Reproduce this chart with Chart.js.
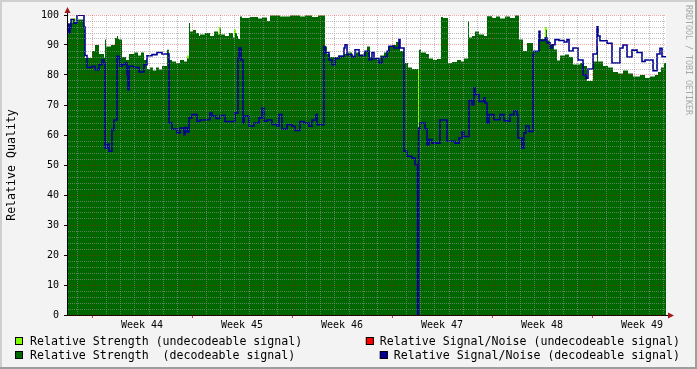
<!DOCTYPE html>
<html>
<head>
<meta charset="utf-8">
<script src="https://cdn.jsdelivr.net/npm/chart.js@4/dist/chart.umd.min.js"></script>
<style>
  html, body { margin: 0; padding: 0; background: #f3f3f3; }
  canvas { display: block; }
</style>
</head>
<body>
<canvas id="chart" width="697" height="369"></canvas>
<script>
// time axis in days, day 0 = start of week 44
const xMin = -1.75;
const xMax = 40.18;
const firstWeek = 44;

// relative strength, decodeable signal (null = undecodeable sample)
const strengthDays = [-1.75,-1.54,-1.05,-0.56,-0.49,0,0.21,0.49,0.84,0.91,0.98,1.33,1.61,1.75,1.82,1.89,2.1,2.38,2.59,2.94,3.22,3.43,3.64,3.85,4.06,4.27,4.48,4.69,4.9,5.25,5.39,5.6,5.88,6.16,6.44,6.65,6.79,6.86,7.07,7.28,7.49,7.56,7.91,8.26,8.54,8.82,8.96,9.03,9.31,9.59,9.87,10.01,10.15,10.22,10.36,10.5,11.06,11.62,11.9,12.25,12.46,13.16,13.86,14.56,14.91,15.4,15.82,16.31,16.45,16.66,16.94,17.22,17.64,17.92,18.2,18.48,18.76,19.04,19.25,19.46,19.67,19.95,20.16,20.44,20.72,21,21.28,21.56,21.84,22.12,22.4,22.82,22.85,22.89,23.03,23.38,23.59,23.87,24.15,24.43,24.57,24.92,25.2,25.55,25.83,26.04,26.32,26.39,26.6,26.81,27.09,27.44,27.65,28,28.28,28.56,28.91,29.26,29.61,29.89,30.17,30.45,30.87,31.22,31.78,31.85,32.06,32.34,32.55,32.76,33.11,33.39,33.67,34.16,34.44,34.65,35.07,35.35,35.42,35.77,36.12,36.47,36.82,37.17,37.52,37.87,38.36,38.71,39.06,39.41,39.62,39.83,40.04,40.18];
const strengthValues = [97,97.5,98.5,95,85.7,88,90,87,85.7,91.8,89.5,90,92.3,93,92,91.8,86,85,87,87.5,86.5,87.5,85,82,82.5,81.5,82.5,81.8,83,88.4,85,84.5,84,85,84.5,85.5,97.3,94.5,95,94,93,93.5,94,93,94.5,93.5,95.5,93.5,93,94,92.5,94,93,92,99.5,99,99.3,98.8,99.2,98,99.8,99.5,99.8,99.5,99.8,99.3,99.8,89.5,87,86,86,86.5,87,87.5,86.5,87.5,86.8,88,89.5,86,85.5,85,86.5,87.5,89.5,90,91,88,84,82.5,82,82,null,88.4,87.5,87,85.5,85,85.3,99.3,99,84,84.3,85,84.5,85.5,97.9,92.5,93,94.5,93.5,93,99.6,99,99.5,98.8,99.5,99,99.8,91.8,88,90.7,87.8,92,95,91.5,90,88.5,84.8,86.5,86.8,86,83.5,84,83,78,84.5,89.4,84.5,83,82.5,81,80.5,81.5,80.5,79.5,80,79,79.5,80,81,82.5,84,84];

// relative strength, undecodeable signal (short spans)
const undecStart = [-1.47, 6.65, 8.89, 9.94, 22.82, 31.71];
const undecEnd = [-1.12, 6.79, 9.03, 10.08, 22.89, 31.85];
const undecValues = [98.8, 86.5, 96, 95.2, 82, 96];

// relative signal/noise, decodeable signal
const snrDays = [-1.75,-1.61,-1.54,-1.47,-1.26,-1.05,-0.56,-0.49,-0.35,0,0.21,0.49,0.7,0.84,0.91,1.05,1.19,1.4,1.54,1.75,1.89,1.96,2.1,2.31,2.45,2.52,2.59,2.94,3.29,3.64,3.85,4.2,4.55,4.9,5.39,5.6,5.95,6.16,6.44,6.51,6.65,6.79,7,7.35,7.56,7.91,8.26,8.4,8.68,8.96,9.31,10.01,10.22,10.29,10.43,10.57,10.64,10.99,11.34,11.69,11.9,12.04,12.25,12.6,12.95,13.09,13.3,13.65,14,14.21,14.56,14.84,15.19,15.4,15.68,15.75,16.24,16.31,16.59,16.8,17.01,17.29,17.64,17.71,17.85,18.2,18.41,18.69,19.11,19.39,19.6,19.74,20.09,20.3,20.65,20.79,21.14,21.49,21.56,21.84,22.05,22.4,22.61,22.79,22.86,22.96,23.31,23.45,23.59,23.8,24.36,24.85,25.41,25.69,25.9,26.04,26.39,26.6,26.74,26.81,27.09,27.44,27.51,27.65,27.79,28.14,28.56,28.84,29.05,29.26,29.54,29.75,29.82,30.1,30.24,30.38,30.59,30.87,30.94,31.29,31.36,31.71,31.85,32.06,32.2,32.41,32.69,33.04,33.25,33.39,33.67,34.02,34.37,34.58,34.72,35.07,35.35,35.42,35.56,36.05,36.4,36.96,37.17,37.45,37.8,38.15,38.5,38.71,39.27,39.55,39.76,39.9,40.18];
const snrValues = [97,94,95.7,98.5,97.3,99.9,96,86.5,82.5,82.9,81.8,83.4,85.1,84,55.7,57,54.6,61.8,65,86.2,85.5,82.9,83.5,84,80,75.1,82.9,82.5,81,83.4,86.4,86.8,87.5,87,64,62,60.7,62.3,60.1,62.5,61,65.7,66.8,64.6,65,65.1,67.3,66.3,65.5,66.5,64.5,67.3,85.7,89,85,64,66.3,63,64,65.7,69,64.6,65,63.5,63,66.8,62,63.4,62.9,61.5,64.5,64,62.9,65,66.8,63.4,89.5,87.5,85,83.4,85.5,86.2,89,90.1,86.8,86,88.4,86.5,87.9,85.1,87.5,85.5,84,86,87.9,89.6,89,91.8,89,54.6,52.9,52.3,50.1,0,62.3,64,62,56.8,58.5,57.3,65,57.9,57.3,59,61,59.5,71.5,70.1,75.7,73.5,71.2,72.3,70.7,64,66.8,65.1,66.8,64.8,64.6,66.8,68,66.8,59,55.7,60.7,63,61.2,86.8,87.9,94.6,91.5,92.3,90.7,89,90.1,91.8,91.5,91,91.8,88,89,85,80,78.9,82,87,96.1,93,91.4,90.6,84,89,90,86,88.3,87.5,84.5,85,81.4,87,88.9,86.1,86.1];

// relative signal/noise, undecodeable signal (none in this period)
const snrUndecDays = [];
const snrUndecValues = [];

const FONT = "'DejaVu Sans Mono', monospace";
const MINOR_GRID = 'rgba(150,150,150,0.6)';
const MAJOR_GRID = 'rgba(235,0,0,0.35)';

const toPoints = (days, values) => days.map((d, i) => ({ x: d, y: values[i] }));

const undecPoints = [];
undecStart.forEach((s, i) => {
  undecPoints.push({ x: s, y: undecValues[i] });
  undecPoints.push({ x: undecEnd[i], y: undecValues[i] });
  undecPoints.push({ x: undecEnd[i], y: null });
});

const isInt = v => Math.abs(v - Math.round(v)) < 1e-6;
const isWeekStart = v => isInt(v) && Math.round(v) % 7 === 0;
const isWeekMid = v => isInt(v - 3.5) && Math.round(v - 3.5) % 7 === 0;

const frame = {
  id: 'frame',
  beforeDraw(chart) {
    const { ctx, width, height, chartArea: a } = chart;
    ctx.save();
    ctx.fillStyle = '#f3f3f3';
    ctx.fillRect(0, 0, width, height);
    ctx.fillStyle = '#cfcfcf';
    ctx.fillRect(0, 0, width, 2);
    ctx.fillRect(0, 0, 2, height);
    ctx.fillStyle = '#9e9e9e';
    ctx.fillRect(width - 2, 0, 2, height);
    ctx.fillRect(0, height - 2, width, 2);
    ctx.fillStyle = '#ffffff';
    ctx.fillRect(a.left, a.top, a.right - a.left, a.bottom - a.top);
    ctx.restore();
  },
  afterDraw(chart) {
    const { ctx, chartArea: a } = chart;
    const ds = chart.data.datasets;
    ctx.save();

    // axis arrows
    ctx.strokeStyle = '#000';
    ctx.lineWidth = 1;
    ctx.beginPath();
    ctx.moveTo(a.left + 0.5, a.top);
    ctx.lineTo(a.left + 0.5, a.top - 2);
    ctx.moveTo(a.right, a.bottom + 0.5);
    ctx.lineTo(a.right + 3, a.bottom + 0.5);
    ctx.stroke();
    ctx.fillStyle = '#a01818';
    ctx.beginPath();
    ctx.moveTo(a.left + 0.5, a.top - 8);
    ctx.lineTo(a.left - 2.5, a.top - 2);
    ctx.lineTo(a.left + 3.5, a.top - 2);
    ctx.closePath();
    ctx.fill();
    ctx.beginPath();
    ctx.moveTo(a.right + 8, a.bottom + 0.5);
    ctx.lineTo(a.right + 2, a.bottom - 2.5);
    ctx.lineTo(a.right + 2, a.bottom + 3.5);
    ctx.closePath();
    ctx.fill();

    // legend
    ctx.font = '11.6px ' + FONT;
    ctx.textBaseline = 'middle';
    const swatch = (x, y, color) => {
      ctx.fillStyle = color;
      ctx.fillRect(x, y, 8, 8);
      ctx.strokeStyle = '#000';
      ctx.strokeRect(x + 0.5, y + 0.5, 7, 7);
    };
    const rows = [337, 351];
    const left = [ds[3], ds[2]];
    const right = [ds[1], ds[0]];
    left.forEach((d, i) => {
      swatch(15, rows[i], d.legendColor);
      ctx.fillStyle = '#000';
      ctx.textAlign = 'left';
      ctx.fillText(d.label, 30, rows[i] + 4.5);
    });
    right.forEach((d, i) => {
      const w = ctx.measureText(d.label).width;
      swatch(680 - w - 14, rows[i], d.legendColor);
      ctx.fillStyle = '#000';
      ctx.textAlign = 'right';
      ctx.fillText(d.label, 680, rows[i] + 4.5);
    });

    // watermark
    ctx.translate(688, 5);
    ctx.rotate(Math.PI / 2);
    ctx.font = '8.3px ' + FONT;
    ctx.fillStyle = '#a8a8a8';
    ctx.textAlign = 'left';
    ctx.fillText('RRDTOOL / TOBI OETIKER', 0, 0);
    ctx.restore();
  }
};

new Chart(document.getElementById('chart'), {
  type: 'line',
  data: {
    datasets: [
      {
        label: 'Relative Signal/Noise (decodeable signal)',
        data: toPoints(snrDays, snrValues),
        stepped: true,
        borderColor: '#000094',
        legendColor: '#000094',
        borderWidth: 1.6,
        pointRadius: 0,
        fill: false,
        order: 0
      },
      {
        label: 'Relative Signal/Noise (undecodeable signal)',
        data: toPoints(snrUndecDays, snrUndecValues),
        stepped: true,
        borderColor: '#ff0000',
        legendColor: '#ff0000',
        borderWidth: 1.6,
        pointRadius: 0,
        fill: false,
        order: 1
      },
      {
        label: 'Relative Strength  (decodeable signal)',
        data: toPoints(strengthDays, strengthValues),
        stepped: true,
        borderColor: 'transparent',
        borderWidth: 0,
        backgroundColor: '#006600',
        legendColor: '#006600',
        pointRadius: 0,
        fill: 'origin',
        spanGaps: false,
        order: 2
      },
      {
        label: 'Relative Strength (undecodeable signal)',
        data: undecPoints,
        stepped: true,
        borderColor: 'transparent',
        borderWidth: 0,
        backgroundColor: '#80ff00',
        legendColor: '#80ff00',
        pointRadius: 0,
        fill: 'origin',
        spanGaps: false,
        order: 3
      }
    ]
  },
  options: {
    responsive: false,
    animation: false,
    events: [],
    layout: { padding: { left: 0, top: 15, right: 31, bottom: 34 } },
    plugins: { legend: { display: false }, tooltip: { enabled: false } },
    scales: {
      x: {
        type: 'linear',
        min: xMin,
        max: xMax,
        afterBuildTicks: s => {
          const t = [];
          for (let d = Math.ceil(xMin); d <= xMax; d++) {
            t.push({ value: d });
            if (isWeekMid(d + 0.5)) t.push({ value: d + 0.5 });
          }
          s.ticks = t;
        },
        afterFit: s => { s.height = 20; },
        ticks: {
          autoSkip: false,
          maxRotation: 0,
          padding: 1,
          color: '#000',
          font: { family: FONT, size: 10 },
          callback: v => isWeekMid(v) ? 'Week ' + (firstWeek + Math.round((v - 3.5) / 7)) : ''
        },
        grid: {
          z: 1,
          lineWidth: 1,
          tickLength: 3,
          color: c => !isInt(c.tick.value) ? 'transparent' : (isWeekStart(c.tick.value) ? MAJOR_GRID : MINOR_GRID),
          tickColor: c => isWeekStart(c.tick.value) ? '#d04040' : 'transparent'
        },
        border: { display: true, z: 1, color: '#000', width: 1, dash: [1, 1] }
      },
      y: {
        min: 0,
        max: 100,
        afterBuildTicks: s => {
          const t = [];
          for (let v = 0; v <= 100; v += 2) t.push({ value: v });
          s.ticks = t;
        },
        afterFit: s => { s.width = 67; },
        ticks: {
          autoSkip: false,
          padding: 5,
          color: '#000',
          font: { family: FONT, size: 10 },
          callback: v => v % 10 === 0 ? String(v) : ''
        },
        grid: {
          z: 1,
          lineWidth: 1,
          tickLength: 3,
          color: c => c.tick.value % 10 === 0 ? MAJOR_GRID : MINOR_GRID,
          tickColor: c => c.tick.value % 10 === 0 ? '#000' : 'transparent'
        },
        border: { display: true, z: 1, color: '#000', width: 1, dash: [1, 1] },
        title: {
          display: true,
          text: 'Relative Quality',
          color: '#000',
          font: { family: FONT, size: 11.6 },
          padding: { top: 5, bottom: 0 }
        }
      }
    }
  },
  plugins: [frame]
});
</script>
</body>
</html>
